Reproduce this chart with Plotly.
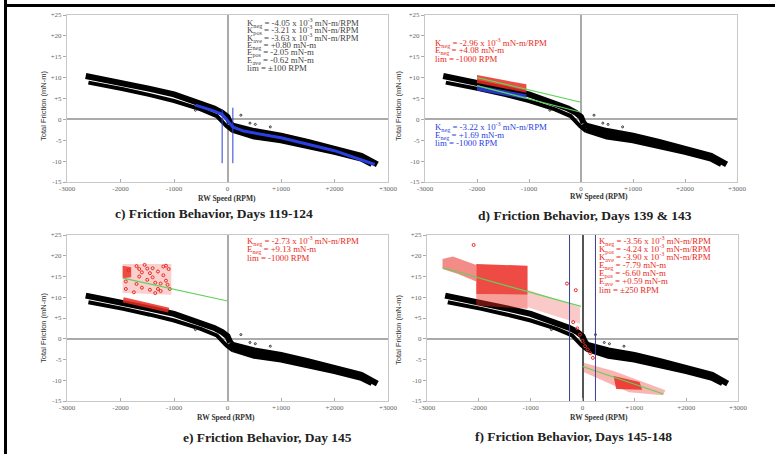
import plotly.graph_objects as go

W, H = 775, 454

# ---------------- tick labels ----------------
X_TICKS = [-3000, -2000, -1000, 0, 1000, 2000, 3000]
X_TICKTEXT = ["-3000", "-2000", "-1000", "0", "+1000", "+2000", "+3000"]
Y_TICKS = [-15, -10, -5, 0, 5, 10, 15, 20, 25]
Y_TICKTEXT = ["-15", "-10", "-5", "0", "+5", "+10", "+15", "+20", "+25"]

# ---------------- base friction data (black bands, same in all panels) ----------------
upper_x = [-2650, -2300, -1950, -1450, -1000, -500, -250, -100, 0, 50]
upper_y = [10.4, 9.6, 8.7, 7.3, 6.0, 3.9, 2.6, 1.6, 0.6, -0.9]
lower_x = [-2600, -2300, -1950, -1450, -1000, -500, -200, -20, 100]
lower_y = [8.8, 8.1, 7.2, 5.8, 4.4, 2.4, 0.8, -1.6, -2.8]
pos_hi_x = [50, 100, 500, 1000, 1500, 2000, 2500, 2800]
pos_hi_y = [-0.9, -1.5, -2.8, -3.9, -5.4, -7.0, -8.7, -10.8]
pos_lo_x = [100, 300, 500, 1000, 1500, 2000, 2500, 2700]
pos_lo_y = [-2.5, -3.4, -4.1, -5.0, -6.3, -7.8, -9.4, -10.7]
outlier_x = [420, 520, 800, -600, 250]
outlier_y = [-0.9, -1.2, -1.8, 2.2, 1.0]

# ---------------- panel c: fit (blue) ----------------
c_fit_x = [-600, -300, -100, 0, 100, 300, 1000, 2000, 2750]
c_fit_y = [3.4, 2.2, 1.2, -0.3, -1.8, -2.8, -4.4, -7.5, -10.8]
c_lim_x = [-100, 100]
c_lim_top = [2.5, 2.8]
c_lim_bot = [-10.5, -10.5]
c_text = [
    "K<sub>neg</sub> = -4.05 x 10<sup>-3</sup> mN-m/RPM",
    "K<sub>pos</sub> = -3.21 x 10<sup>-3</sup> mN-m/RPM",
    "K<sub>ave</sub> = -3.63 x 10<sup>-3</sup> mN-m/RPM",
    "E<sub>neg</sub> = +0.80 mN-m",
    "E<sub>pos</sub> = -2.05 mN-m",
    "E<sub>ave</sub> = -0.62 mN-m",
    "lim = ±100 RPM",
]

# ---------------- panel d ----------------
d_red_x = [-2000, -1050, -1050, -2000]
d_red_y = [10.6, 8.4, 6.4, 8.7]
d_blue_x = [-2000, -1050, -1050, -2000]
d_blue_y = [8.2, 6.0, 4.8, 6.9]
d_green1_x = [-2000, 0]
d_green1_y = [10.0, 4.1]
d_green2_x = [-2000, 0]
d_green2_y = [8.1, 1.7]
d_red_text = [
    "K<sub>neg</sub> = -2.96 x 10<sup>-3</sup> mN-m/RPM",
    "E<sub>neg</sub> = +4.08 mN-m",
    "lim = -1000 RPM",
]
d_blue_text = [
    "K<sub>neg</sub> = -3.22 x 10<sup>-3</sup> mN-m/RPM",
    "E<sub>neg</sub> = +1.69 mN-m",
    "lim = -1000 RPM",
]

# ---------------- panel e ----------------
e_block_x = [-1960, -1050, -1050, -1960]
e_block_y = [18.0, 18.0, 10.6, 11.0]
e_dense_x = [-1960, -1800, -1800, -1960]
e_dense_y = [17.6, 17.2, 14.8, 14.6]
e_low_x = [-1950, -1500, -1100]
e_low_y = [9.4, 8.0, 6.9]
e_green_x = [-1950, 0]
e_green_y = [14.6, 9.1]
e_pts_x = [-1900, -1850, -1700, -1650, -1600, -1550, -1500, -1450, -1400, -1350, -1300,
           -1250, -1200, -1150, -1100, -1080, -1700, -1600, -1500, -1400, -1300, -1200,
           -1120, -1900, -1750, -1450, -1350, -1250, -1150, -1650]
e_pts_y = [12.0, 16.5, 17.5, 15.0, 12.3, 17.8, 14.2, 11.8, 17.0, 13.5, 16.2,
           11.5, 17.4, 14.0, 16.8, 12.0, 13.2, 16.0, 16.9, 14.8, 12.0, 15.3,
           13.0, 13.8, 11.2, 15.8, 11.0, 13.3, 17.6, 16.8]
e_red_text = [
    "K<sub>neg</sub> = -2.73 x 10<sup>-3</sup> mN-m/RPM",
    "E<sub>neg</sub> = +9.13 mN-m",
    "lim = -1000 RPM",
]

# ---------------- panel f ----------------
f_strip_x = [-2700, -2500, -2050, -2050, -2400, -2700]
f_strip_y = [19.2, 19.8, 17.8, 13.8, 15.6, 16.8]
f_block_x = [-2050, -1060, -1060, -2050]
f_block_y = [18.0, 17.6, 10.6, 10.8]
f_blocklow_x = [-2050, -1060, -1060, -2050]
f_blocklow_y = [10.8, 10.6, 7.2, 8.0]
f_sparse_x = [-1060, -500, -50, -50, -500, -1060]
f_sparse_y = [11.8, 9.5, 7.6, 3.6, 5.4, 7.6]
f_pos_x = [20, 600, 1600, 1550, 900, 400, 20]
f_pos_y = [-5.8, -7.8, -12.4, -13.6, -12.9, -10.2, -8.0]
f_posdense_x = [600, 1100, 1150, 650]
f_posdense_y = [-9.0, -10.4, -12.3, -12.1]
f_pts_x = [-2100, -300, -130, -100, -50, 0, 50, 100, 150, -180, 200]
f_pts_y = [22.6, 13.3, 11.7, 2.5, 1.0, -0.5, -1.8, -2.6, -3.5, 4.0, -4.6]
f_green1_x = [-2700, -30]
f_green1_y = [17.1, 7.8]
f_green2_x = [0, 1560]
f_green2_y = [-6.7, -13.3]
f_lim_x = [-250, 250]
f_red_text = [
    "K<sub>neg</sub> = -3.56 x 10<sup>-3</sup> mN-m/RPM",
    "K<sub>pos</sub> = -4.24 x 10<sup>-3</sup> mN-m/RPM",
    "K<sub>ave</sub> = -3.90 x 10<sup>-3</sup> mN-m/RPM",
    "E<sub>neg</sub> = -7.79 mN-m",
    "E<sub>pos</sub> = -6.60 mN-m",
    "E<sub>ave</sub> = +0.59 mN-m",
    "lim = ±250 RPM",
]

titles = [
    "c) Friction Behavior, Days 119-124",
    "d) Friction Behavior, Days 139 & 143",
    "e) Friction Behavior, Day 145",
    "f) Friction Behavior, Days 145-148",
]

# ---------------- layout geometry (pixels) ----------------
panels = {  # left, right, top, bottom in pixels
    1: (67, 388, 15, 182),
    2: (425, 737, 15, 182),
    3: (67, 388, 235, 401),
    4: (427, 738, 235, 401),
}

RED = "#ea2b22"
BLUE = "#2a3fe0"
GREEN = "#5fd35a"
SERIF = "Liberation Serif"

fig = go.Figure()


def ax(i):
    return ("x" if i == 1 else f"x{i}"), ("y" if i == 1 else f"y{i}")


def line(i, x, y, color, width, opacity=1.0):
    xa, ya = ax(i)
    fig.add_trace(go.Scatter(x=x, y=y, mode="lines", xaxis=xa, yaxis=ya,
                             line=dict(color=color, width=width), opacity=opacity,
                             showlegend=False, hoverinfo="skip"))


def poly(i, x, y, color):
    xa, ya = ax(i)
    fig.add_trace(go.Scatter(x=x, y=y, mode="lines", fill="toself", fillcolor=color,
                             xaxis=xa, yaxis=ya, line=dict(width=0),
                             showlegend=False, hoverinfo="skip"))


def pts(i, x, y, color, size=3):
    xa, ya = ax(i)
    fig.add_trace(go.Scatter(x=x, y=y, mode="markers", xaxis=xa, yaxis=ya,
                             marker=dict(color=color, size=size, symbol="circle-open",
                                         line=dict(width=1, color=color)),
                             showlegend=False, hoverinfo="skip"))


def base(i):
    line(i, upper_x, upper_y, "black", 6)
    line(i, lower_x, lower_y, "black", 4)
    line(i, pos_hi_x, pos_hi_y, "black", 6)
    line(i, pos_lo_x, pos_lo_y, "black", 6)
    pts(i, outlier_x, outlier_y, "#333", 2)


# panel c
base(1)
line(1, c_fit_x, c_fit_y, BLUE, 3)
for k in range(len(c_lim_x)):
    line(1, [c_lim_x[k], c_lim_x[k]], [c_lim_top[k], c_lim_bot[k]], BLUE, 1)

# panel d
base(2)
poly(2, d_red_x, d_red_y, "rgba(234,43,34,0.85)")
poly(2, d_blue_x, d_blue_y, "rgba(42,63,224,0.85)")
line(2, d_green1_x, d_green1_y, GREEN, 1.2)
line(2, d_green2_x, d_green2_y, GREEN, 1.2)

# panel e
base(3)
poly(3, e_block_x, e_block_y, "rgba(234,43,34,0.22)")
poly(3, e_dense_x, e_dense_y, "rgba(234,43,34,0.8)")
pts(3, e_pts_x, e_pts_y, RED, 3)
line(3, e_low_x, e_low_y, RED, 5, 0.85)
line(3, e_green_x, e_green_y, GREEN, 1.2)

# panel f
base(4)
poly(4, f_strip_x, f_strip_y, "rgba(234,43,34,0.55)")
poly(4, f_block_x, f_block_y, "rgba(234,43,34,0.85)")
poly(4, f_blocklow_x, f_blocklow_y, "rgba(234,43,34,0.45)")
poly(4, f_sparse_x, f_sparse_y, "rgba(234,43,34,0.25)")
poly(4, f_pos_x, f_pos_y, "rgba(234,43,34,0.35)")
poly(4, f_posdense_x, f_posdense_y, "rgba(234,43,34,0.85)")
pts(4, f_pts_x, f_pts_y, RED, 3)
line(4, f_green1_x, f_green1_y, GREEN, 1.2)
line(4, f_green2_x, f_green2_y, GREEN, 1.2)
for xv in f_lim_x:
    line(4, [xv, xv], [-15, 25], "#3a3f8f", 1)

# ---------------- axes ----------------
layout = dict(width=W, height=H, margin=dict(l=0, r=0, t=0, b=0, pad=0, autoexpand=False),
              paper_bgcolor="white", plot_bgcolor="white", showlegend=False)
for i, (l, r, t, b) in panels.items():
    xa, ya = ax(i)
    xkey = "xaxis" if i == 1 else f"xaxis{i}"
    ykey = "yaxis" if i == 1 else f"yaxis{i}"
    zc = "#555" if i == 4 else "#aaa"
    layout[xkey] = dict(domain=[l / W, r / W], anchor=ya, range=[-3000, 3000],
                        tickvals=X_TICKS, ticktext=X_TICKTEXT, ticks="inside", ticklen=3,
                        tickcolor="#aaa", tickfont=dict(family=SERIF, size=7, color="#666"),
                        showgrid=False, zeroline=True, zerolinecolor=zc, zerolinewidth=1.5,
                        showline=True, linecolor="#c8c8c8", linewidth=1, mirror=True,
                        automargin=False)
    layout[ykey] = dict(domain=[1 - b / H, 1 - t / H], anchor=xa, range=[-15, 25],
                        tickvals=Y_TICKS, ticktext=Y_TICKTEXT, ticks="outside", ticklen=3,
                        tickcolor="#aaa", tickfont=dict(family=SERIF, size=7, color="#666"),
                        showgrid=False, zeroline=True, zerolinecolor="#aaa", zerolinewidth=1.5,
                        showline=True, linecolor="#c8c8c8", linewidth=1, mirror=True,
                        automargin=False)
fig.update_layout(**layout)

# ---------------- text ----------------
ann = []


def txt(x, y, s, size, color="#333", family=SERIF, anchor="center", angle=0):
    ann.append(dict(x=x / W, y=1 - y / H, xref="paper", yref="paper", text=s,
                    showarrow=False, xanchor=anchor, yanchor="middle", textangle=angle,
                    font=dict(family=family, size=size, color=color)))


TS = 8.8
for k, s in enumerate(c_text):
    txt(245, 22.5 + 7.6 * k, s, TS, "#444", anchor="left")
for k, s in enumerate(d_red_text):
    txt(433, 43 + 8 * k, s, TS, RED, anchor="left")
for k, s in enumerate(d_blue_text):
    txt(433, 127 + 8 * k, s, TS, BLUE, anchor="left")
for k, s in enumerate(e_red_text):
    txt(245, 241 + 8.3 * k, s, TS, RED, anchor="left")
for k, s in enumerate(f_red_text):
    txt(597, 241 + 8.1 * k, s, TS, RED, anchor="left")

# axis titles
for (xc, yc) in [(227, 198), (599, 196), (226, 417), (599, 417)]:
    txt(xc, yc, "<b>RW Speed (RPM)</b>", 7.5, "#333")
for (xc, yc) in [(43, 106), (398, 106), (43, 328), (398, 330)]:
    txt(xc, yc, "Total Friction (mN-m)", 7.5, "#333", family="Liberation Sans Narrow, Liberation Sans",
        angle=-90)

# panel captions
for (xc, yc), s in zip([(214, 213), (585, 216), (267, 437), (573, 436)], titles):
    txt(xc, yc, "<b>" + s + "</b>", 13.5, "#222")

fig.update_layout(annotations=ann)

# frame lines of the scanned figure
fig.add_shape(type="line", xref="paper", yref="paper", x0=5.5 / W, x1=1, y0=1 - 5.5 / H, y1=1 - 5.5 / H,
              line=dict(color="black", width=3))
fig.add_shape(type="line", xref="paper", yref="paper", x0=5.5 / W, x1=5.5 / W, y0=0, y1=1,
              line=dict(color="black", width=3))

fig.write_html("out.html", config={"displayModeBar": False},
               post_script="document.body.style.margin='0';document.body.style.padding='0';"
                           "document.body.style.overflow='hidden';")
